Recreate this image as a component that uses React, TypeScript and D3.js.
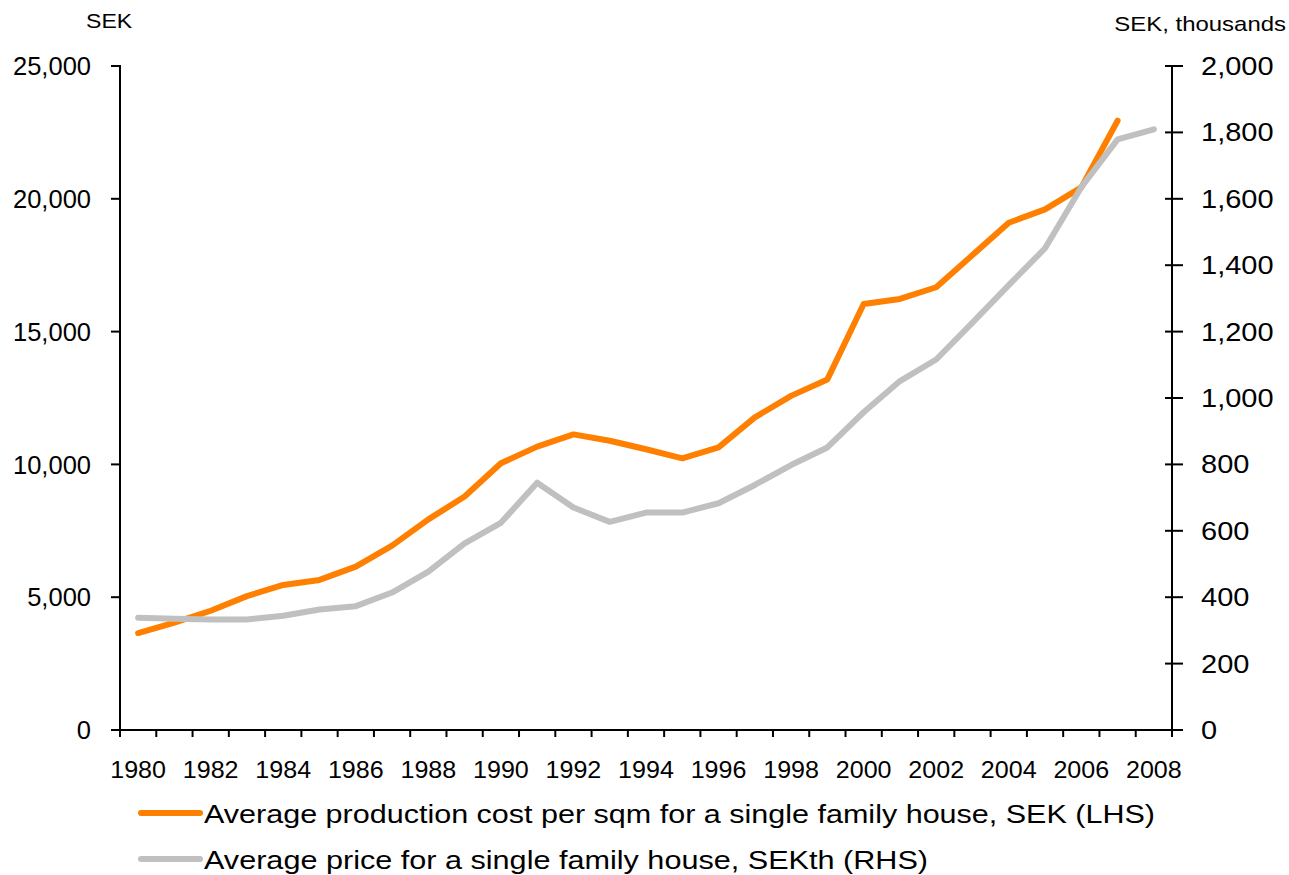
import React, { useEffect, useRef } from 'react';
import * as d3 from 'd3';

// categories on the x axis
const years = [
  1980, 1981, 1982, 1983, 1984, 1985, 1986, 1987, 1988, 1989,
  1990, 1991, 1992, 1993, 1994, 1995, 1996, 1997, 1998, 1999,
  2000, 2001, 2002, 2003, 2004, 2005, 2006, 2007, 2008,
];

// SEK per sqm, 1980-2007 (LHS)
const costPerSqm = [
  3650, 4040, 4490, 5040, 5460, 5650, 6150, 6940, 7930, 8790,
  10040, 10670, 11130, 10890, 10570, 10230, 10640, 11770, 12580, 13200,
  16040, 16230, 16670, 17880, 19100, 19600, 20430, 22940,
];

// SEK thousands, 1980-2008 (RHS)
const housePrice = [
  338, 335, 333, 333, 344, 363, 373, 414, 477, 562,
  624, 745, 670, 627, 655, 655, 683, 738, 798, 851,
  957, 1051, 1116, 1227, 1340, 1451, 1635, 1779, 1809,
];

const leftTicks = [0, 5000, 10000, 15000, 20000, 25000];
const rightTicks = [0, 200, 400, 600, 800, 1000, 1200, 1400, 1600, 1800, 2000];
const yearLabels = [1980, 1982, 1984, 1986, 1988, 1990, 1992, 1994, 1996, 1998, 2000, 2002, 2004, 2006, 2008];

const legendItems = [
  { label: 'Average production cost per sqm for a single family house, SEK (LHS)', color: '#ff8000', len: 951 },
  { label: 'Average price for a single family house, SEKth (RHS)', color: '#c0c0c0', len: 724 },
];

// widen glyphs a little, like the original export
const stretch = (sel, sx) => {
  sel.each(function () {
    const w = this.getComputedTextLength();
    d3.select(this).attr('textLength', w * sx).attr('lengthAdjust', 'spacingAndGlyphs');
  });
};

const App = () => {
  const svgRef = useRef(null);

  useEffect(() => {
    const width = 1289;
    const height = 875;
    const left = 120, right = 1172, top = 66, bottom = 730;
    const font = 'Liberation Sans, Arial, sans-serif';

    const svg = d3.select(svgRef.current);
    svg.selectAll('*').remove();
    svg.attr('width', width).attr('height', height);

    const x = d3.scaleBand().domain(years).range([left, right]).paddingInner(0).paddingOuter(0);
    const cx = (d) => x(d) + x.bandwidth() / 2;
    const yL = d3.scaleLinear().domain([0, 25000]).range([bottom, top]);
    const yR = d3.scaleLinear().domain([0, 2000]).range([bottom, top]);

    // axes lines
    const ax = svg.append('g').attr('stroke', '#000').attr('stroke-width', 2);
    ax.append('line').attr('x1', left).attr('x2', left).attr('y1', top - 1).attr('y2', bottom + 1);
    ax.append('line').attr('x1', right).attr('x2', right).attr('y1', top - 1).attr('y2', bottom + 1);
    ax.append('line').attr('x1', left).attr('x2', right).attr('y1', bottom).attr('y2', bottom);

    // left ticks
    ax.selectAll('.tl').data(leftTicks).enter().append('line')
      .attr('x1', left - 9).attr('x2', left)
      .attr('y1', (d) => yL(d)).attr('y2', (d) => yL(d));
    svg.append('g').selectAll('text').data(leftTicks).enter().append('text')
      .attr('x', 91).attr('y', (d) => yL(d)).attr('dy', '0.36em')
      .attr('text-anchor', 'end')
      .style('font-family', font).style('font-size', '25.5px')
      .text((d) => d3.format(',')(d));

    // right ticks (crossing)
    ax.selectAll('.tr').data(rightTicks).enter().append('line')
      .attr('x1', right - 7).attr('x2', right + 11)
      .attr('y1', (d) => yR(d)).attr('y2', (d) => yR(d));
    const rt = svg.append('g').selectAll('text').data(rightTicks).enter().append('text')
      .attr('x', 1201).attr('y', (d) => yR(d)).attr('dy', '0.36em')
      .style('font-family', font).style('font-size', '25px')
      .text((d) => d3.format(',')(d));
    stretch(rt, 1.16);

    // x ticks between categories
    const bounds = years.map((d) => x(d)).concat([right]);
    ax.selectAll('.tx').data(bounds).enter().append('line')
      .attr('x1', (d) => d).attr('x2', (d) => d)
      .attr('y1', bottom).attr('y2', bottom + 7);
    const xt = svg.append('g').selectAll('text').data(yearLabels).enter().append('text')
      .attr('x', (d) => cx(d)).attr('y', 778)
      .attr('text-anchor', 'middle')
      .style('font-family', font).style('font-size', '23px')
      .text((d) => d);
    stretch(xt, 1.09);

    // axis titles
    const t1 = svg.append('text').attr('x', 86).attr('y', 28)
      .style('font-family', font).style('font-size', '21px')
      .text('SEK');
    stretch(t1, 1.1);
    const t2 = svg.append('text').attr('x', 1286).attr('y', 31).attr('text-anchor', 'end')
      .style('font-family', font).style('font-size', '21px')
      .text('SEK, thousands');
    stretch(t2, 1.14);

    // series
    const lineL = d3.line().x((d, i) => cx(years[i])).y((d) => yL(d));
    const lineR = d3.line().x((d, i) => cx(years[i])).y((d) => yR(d));

    svg.append('path').datum(costPerSqm)
      .attr('d', lineL).attr('fill', 'none').attr('stroke', '#ff8000')
      .attr('stroke-width', 6).attr('stroke-linejoin', 'round').attr('stroke-linecap', 'round');
    svg.append('path').datum(housePrice)
      .attr('d', lineR).attr('fill', 'none').attr('stroke', '#c0c0c0')
      .attr('stroke-width', 6).attr('stroke-linejoin', 'round').attr('stroke-linecap', 'round');

    // legend
    const lg = svg.append('g');
    legendItems.forEach((item, i) => {
      const ly = 813 + i * 46;
      lg.append('line').attr('x1', 141).attr('x2', 200).attr('y1', ly).attr('y2', ly)
        .attr('stroke', item.color).attr('stroke-width', 6).attr('stroke-linecap', 'round');
      lg.append('text').attr('x', 204).attr('y', ly + 10)
        .attr('textLength', item.len).attr('lengthAdjust', 'spacingAndGlyphs')
        .style('font-family', font).style('font-size', '25px')
        .text(item.label);
    });
  }, []);

  return (
    <svg ref={svgRef} style={{ position: 'absolute', left: 0, top: 0 }}></svg>
  );
};

export default App;
